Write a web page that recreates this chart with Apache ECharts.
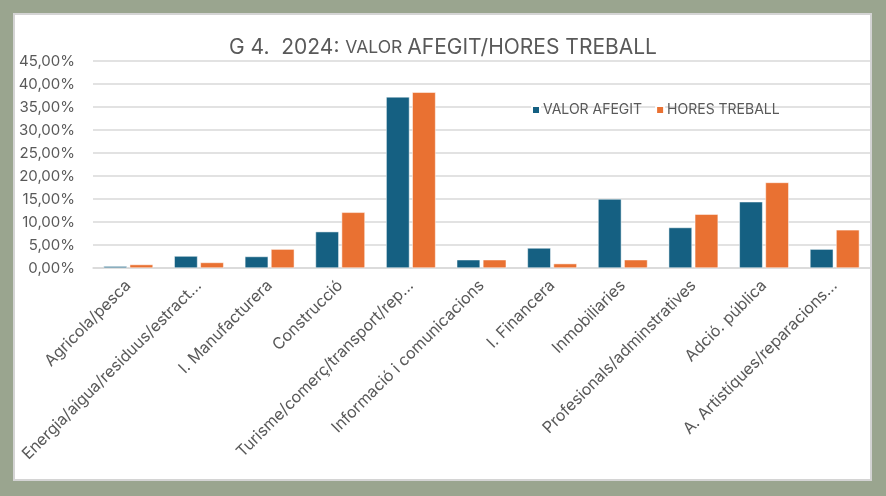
<!DOCTYPE html>
<html>
<head>
<meta charset="utf-8">
<script src="https://cdn.jsdelivr.net/npm/echarts@6/dist/echarts.min.js"></script>
<style>
  html, body { margin: 0; padding: 0; background: #9aa58f; }
  #chart { width: 886px; height: 496px; }
</style>
</head>
<body>
<div id="chart"></div>
<script>
// sectors (x axis)
var categories = [
    'Agricola/pesca',
    'Energia/aigua/residuus/estract…',
    'I. Manufacturera',
    'Construcció',
    'Turisme/comerç/transport/rep…',
    'Informació i comunicacions',
    'I. Financera',
    'Inmobiliaries',
    'Profesionals/adminstratives',
    'Adció. pública',
    'A. Artistíques/reparacions…'
];
// shares in %
var valorAfegit = [0.4, 2.6, 2.5, 7.9, 37.2, 1.8, 4.35, 15.0, 8.8, 14.4, 4.1];
var horesTreball = [0.75, 1.2, 4.1, 12.1, 38.2, 1.8, 0.95, 1.8, 11.7, 18.6, 8.3];
var seriesNames = ['VALOR AFEGIT', 'HORES TREBALL'];

var txt = '#595959';
var font = 'Inter, "Noto Sans", sans-serif';

var myChart = echarts.init(document.getElementById('chart'));
myChart.setOption({
    backgroundColor: '#9aa58f',
    animation: false,
    textStyle: { fontFamily: font },
    graphic: [{
        type: 'rect',
        z: -10,
        shape: { x: 14, y: 14, width: 857, height: 466 },
        style: { fill: '#ffffff', stroke: '#d4d4d4', lineWidth: 2 }
    }],
    title: {
        text: '{a|G 4.  2024: }{b|VALOR }{a|AFEGIT/HORES TREBALL}',
        left: 'center',
        top: 32,
        textStyle: {
            fontWeight: 'normal',
            rich: {
                a: { fontSize: 21, color: txt, fontFamily: font, fontWeight: 'normal' },
                b: { fontSize: 17.5, color: txt, fontFamily: font, fontWeight: 'normal' }
            }
        }
    },
    legend: {
        data: seriesNames,
        left: 526,
        top: 98,
        itemWidth: 8,
        itemHeight: 8,
        itemGap: 13,
        icon: 'rect',
        textStyle: { fontSize: 14, color: txt, padding: [0, 0, 0, -2] }
    },
    grid: { left: 93, right: 16, top: 61, bottom: 228 },
    xAxis: {
        type: 'category',
        data: categories,
        axisTick: { show: false },
        axisLine: { lineStyle: { color: '#d9d9d9', width: 1.5 } },
        axisLabel: {
            rotate: 45,
            interval: 0,
            margin: 15,
            fontSize: 16,
            color: txt
        }
    },
    yAxis: {
        type: 'value',
        min: 0,
        max: 45,
        interval: 5,
        axisLine: { show: false },
        axisTick: { show: false },
        splitLine: { lineStyle: { color: '#d9d9d9', width: 1.5 } },
        axisLabel: {
            margin: 18,
            fontSize: 15,
            color: txt,
            formatter: function (v) {
                return v.toFixed(2).replace('.', ',') + '%';
            }
        }
    },
    series: [{
        name: seriesNames[0],
        type: 'bar',
        data: valorAfegit,
        barGap: '12%',
        barCategoryGap: '30%',
        itemStyle: { color: '#156082', borderColor: '#ffffff', borderWidth: 0.5 }
    }, {
        name: seriesNames[1],
        type: 'bar',
        data: horesTreball,
        itemStyle: { color: '#e97132', borderColor: '#ffffff', borderWidth: 0.5 }
    }]
});
</script>
</body>
</html>
